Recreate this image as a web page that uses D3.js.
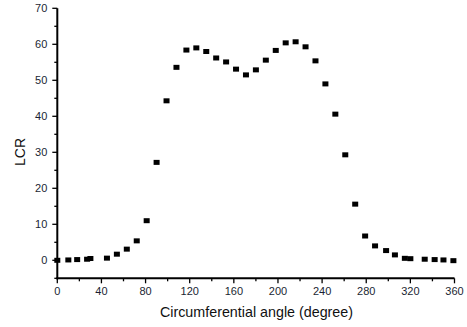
<!DOCTYPE html>
<html>
<head>
<meta charset="utf-8">
<script src="https://cdn.jsdelivr.net/npm/d3@7"></script>
<style>
body{margin:0;background:#fff}
</style>
</head>
<body>
<svg id="graph"></svg>
<script>
// angle (degree) and LCR values
var angle = [0, 10, 18, 27, 30, 45, 54, 63, 72, 81, 90, 99, 108, 117, 126, 135, 144, 153, 162, 171,
             180, 189, 198, 207, 216, 225, 234, 243, 252, 261, 270, 279, 288, 298, 306, 315, 320, 333, 342, 350, 359]
var lcr = [0, 0.1, 0.2, 0.3, 0.5, 0.6, 1.7, 3.1, 5.4, 11, 27.2, 44.3, 53.6, 58.4, 59, 58, 56.2, 55.1, 53.1, 51.5,
           52.9, 55.6, 58.3, 60.4, 60.7, 59.3, 55.4, 49, 40.6, 29.3, 15.6, 6.75, 4, 2.7, 1.5, 0.55, 0.45, 0.3, 0.2, 0.1, -0.1]
var xTicks = [0, 40, 80, 120, 160, 200, 240, 280, 320, 360]
var yTicks = [0, 10, 20, 30, 40, 50, 60, 70]

window.onload = function(){
    const W = 467, H = 327
    const svg = d3.select("#graph").attr("width", W).attr("height", H)
        .style("font-family", "'Liberation Sans', Arial, sans-serif")

    const x = d3.scaleLinear().domain([0, 360]).range([57.3, 454.5])
    const y = d3.scaleLinear().domain([-5, 70]).range([278.3, 8.3])

    // minor ticks
    var xMinor = d3.range(20, 360, 40)
    var yMinor = d3.range(-5, 70, 10)

    var xAxis = svg.append("g").attr("transform", "translate(0," + y(-5) + ")")
    xAxis.selectAll(".minor").data(xMinor).enter().append("line")
        .attr("x1", d => x(d)).attr("x2", d => x(d)).attr("y1", 0).attr("y2", 3)
        .attr("stroke", "#000").attr("stroke-width", 1.3)
    xAxis.selectAll(".major").data(xTicks).enter().append("line")
        .attr("x1", d => x(d)).attr("x2", d => x(d)).attr("y1", 0).attr("y2", 5)
        .attr("stroke", "#000").attr("stroke-width", 1.3)
    xAxis.selectAll("text").data(xTicks).enter().append("text")
        .attr("x", d => x(d)).attr("y", 17)
        .attr("text-anchor", "middle").attr("font-size", 11).attr("fill", "#1a1f33")
        .text(d => d)
    xAxis.append("line").attr("x1", x(0) - 1).attr("x2", x(360)).attr("y1", 0).attr("y2", 0)
        .attr("stroke", "#000").attr("stroke-width", 2)

    var yAxis = svg.append("g").attr("transform", "translate(" + x(0) + ",0)")
    yAxis.selectAll(".minor").data(yMinor).enter().append("line")
        .attr("x1", 0).attr("x2", -3).attr("y1", d => y(d)).attr("y2", d => y(d))
        .attr("stroke", "#000").attr("stroke-width", 1.3)
    yAxis.selectAll(".major").data(yTicks).enter().append("line")
        .attr("x1", 0).attr("x2", -5).attr("y1", d => y(d)).attr("y2", d => y(d))
        .attr("stroke", "#000").attr("stroke-width", 1.3)
    yAxis.selectAll("text").data(yTicks).enter().append("text")
        .attr("x", -10).attr("y", d => y(d) + 4)
        .attr("text-anchor", "end").attr("font-size", 11).attr("fill", "#1a1f33")
        .text(d => d)
    yAxis.append("line").attr("x1", 0).attr("x2", 0).attr("y1", y(70)).attr("y2", y(-5) + 1)
        .attr("stroke", "#000").attr("stroke-width", 2)

    // markers
    svg.selectAll("rect.pt").data(angle).enter().append("rect")
        .attr("class", "pt")
        .attr("x", d => x(d) - 3)
        .attr("y", (d, i) => y(lcr[i]) - 2.5)
        .attr("width", 6).attr("height", 5)
        .attr("fill", "#000")

    svg.append("text")
        .attr("x", 256.5).attr("y", 317)
        .attr("text-anchor", "middle").attr("font-size", 14.3).attr("fill", "#111")
        .text("Circumferential angle (degree)")

    svg.append("text")
        .attr("transform", "translate(25,152) rotate(-90)")
        .attr("text-anchor", "middle").attr("font-size", 14).attr("fill", "#111")
        .text("LCR")
}
</script>
</body>
</html>
